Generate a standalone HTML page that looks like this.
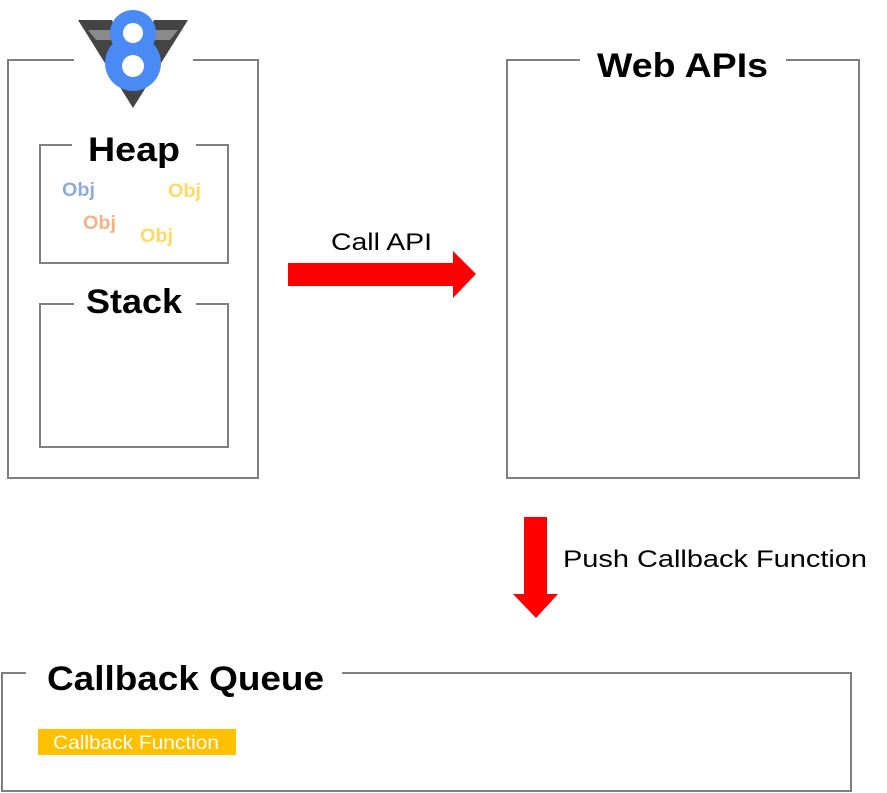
<!DOCTYPE html>
<html><head><meta charset="utf-8"><style>
html,body{margin:0;padding:0;background:#fff;}
svg{display:block;}
text{font-family:"Liberation Sans","DejaVu Sans",sans-serif;}
</style></head><body>
<svg width="887" height="793" viewBox="0 0 887 793" xmlns="http://www.w3.org/2000/svg">
<g fill="none" stroke="#7f7f7f" stroke-width="2">
  <polyline points="74,60 8,60 8,478 258,478 258,60 193,60"/>
  <polyline points="72,145 40,145 40,263 228,263 228,145 196,145"/>
  <polyline points="74,304 40,304 40,447 228,447 228,304 196,304"/>
  <polyline points="580,60 507,60 507,478 859,478 859,60 786,60"/>
  <polyline points="26,673 2,673 2,791 851,791 851,673 342,673"/>
</g>
<!-- V8 logo -->
<polygon points="78,20 112,20 133,70 154,20 188,20 133,108" fill="#444"/>
<polygon points="88,30 114,30 118,40 96,40" fill="#8a8a8a"/>
<polygon points="178,30 152,30 148,40 170,40" fill="#8a8a8a"/>
<g fill="#4a8af4">
  <circle cx="133" cy="33" r="23"/>
  <circle cx="133" cy="63" r="28"/>
</g>
<circle cx="133" cy="33" r="10" fill="#fff"/>
<circle cx="133" cy="66" r="11" fill="#fff"/>
<g font-weight="bold" font-size="34" fill="#000">
  <text x="88" y="161" textLength="92" lengthAdjust="spacingAndGlyphs">Heap</text>
  <text x="86" y="313" textLength="96" lengthAdjust="spacingAndGlyphs">Stack</text>
  <text x="597" y="77" textLength="171" lengthAdjust="spacingAndGlyphs">Web APIs</text>
  <text x="47" y="690" textLength="277" lengthAdjust="spacingAndGlyphs">Callback Queue</text>
</g>
<g font-weight="bold" font-size="19">
  <text x="62" y="196" fill="#8faadc" textLength="33" lengthAdjust="spacingAndGlyphs">Obj</text>
  <text x="168" y="197" fill="#ffd966" textLength="33" lengthAdjust="spacingAndGlyphs">Obj</text>
  <text x="83" y="229" fill="#f4b183" textLength="33" lengthAdjust="spacingAndGlyphs">Obj</text>
  <text x="140" y="242" fill="#ffd966" textLength="33" lengthAdjust="spacingAndGlyphs">Obj</text>
</g>
<polygon points="288,263 453,263 453,251 476,274 453,298 453,286 288,286" fill="#ff0000"/>
<text x="331" y="250" font-size="24" fill="#000" textLength="101" lengthAdjust="spacingAndGlyphs">Call API</text>
<polygon points="524,517 547,517 547,594 558,594 536,618 513,594 524,594" fill="#ff0000"/>
<text x="563" y="567" font-size="24" fill="#000" textLength="304" lengthAdjust="spacingAndGlyphs">Push Callback Function</text>
<rect x="38" y="729" width="198" height="26" fill="#ffc000"/>
<text x="53" y="749" font-size="19" fill="#fff" textLength="166" lengthAdjust="spacingAndGlyphs">Callback Function</text>
</svg>
</body></html>
